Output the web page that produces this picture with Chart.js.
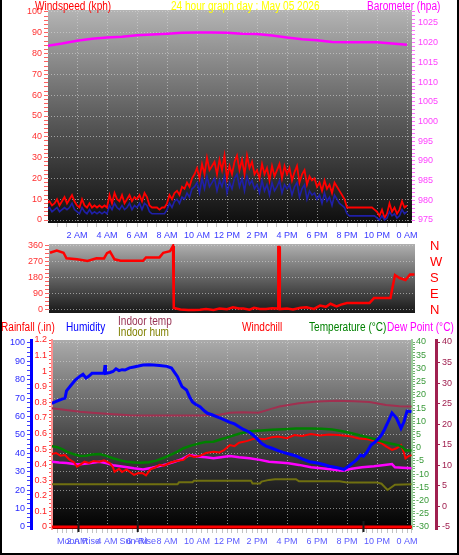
<!DOCTYPE html>
<html>
<head>
<meta charset="utf-8">
<script src="https://cdn.jsdelivr.net/npm/chart.js@4.4.1/dist/chart.umd.min.js"></script>
<style>
  html, body { margin: 0; padding: 0; background: #ffffff; }
  #page { position: relative; width: 459px; height: 555px; overflow: hidden; background: #ffffff;
          font-family: "Liberation Sans", Arial, sans-serif; }
  #page canvas { position: absolute; left: 0; top: 0; }
  .lbl { position: absolute; font-size: 12px; line-height: 12px; white-space: nowrap;
         transform: scaleX(0.84); transform-origin: 0 0; }
  #frame { position: absolute; left: 0; top: 0; width: 459px; height: 555px; box-sizing: border-box;
           border: 2px solid #000; border-top: none; pointer-events: none; }
</style>
</head>
<body>
<div id="page">
  <canvas id="wind-chart" width="459" height="555"></canvas>
  <canvas id="dir-chart" width="459" height="555"></canvas>
  <canvas id="temp-chart" width="459" height="555"></canvas>

  <div class="lbl" style="left:35px; top:0px; color:#ff0000">Windspeed (kph)</div>
  <div class="lbl" style="left:171px; top:0px; color:#ffff00">24 hour graph day : May 05 2026</div>
  <div class="lbl" style="left:367px; top:0px; color:#ff00ff">Barometer (hpa)</div>

  <div class="lbl" style="left:1px; top:321px; color:#ff0000">Rainfall (.in)</div>
  <div class="lbl" style="left:66px; top:321px; color:#0000ff">Humidity</div>
  <div class="lbl" style="left:118px; top:315px; color:#993355">Indoor temp</div>
  <div class="lbl" style="left:118px; top:326px; color:#808000">Indoor hum</div>
  <div class="lbl" style="left:242px; top:321px; color:#ff0000">Windchill</div>
  <div class="lbl" style="left:309px; top:321px; color:#008000">Temperature (°C)</div>
  <div class="lbl" style="left:387px; top:321px; color:#ff00ff">Dew Point (°C)</div>
  <div id="frame"></div>
</div>

<script>
// eje de tiempo: horas 0..24
const HOUR_LABELS = ["2 AM", "4 AM", "6 AM", "8 AM", "10 AM", "12 PM", "2 PM", "4 PM", "6 PM", "8 PM", "10 PM", "0 AM"];
const LABEL_HOURS = [2, 4, 6, 8, 10, 12, 14, 16, 18, 20, 22, 24];

// viento cada 10 minutos (kph)
const WIND_STEP_H = 1 / 6;
const WIND_GUST = [
  8, 9, 7, 8, 10, 7, 9, 11, 8, 10, 12, 9,
  7, 6, 10, 7, 6, 8, 6, 7, 6, 7, 6, 7,
  6, 12, 8, 13, 10, 9, 12, 8, 10, 12, 9, 11,
  10, 12, 9, 13, 11, 7, 6, 6, 6, 5, 6, 6,
  8, 12, 10, 13, 14, 12, 16, 15, 18, 16, 20, 22,
  25, 20, 27, 22, 30, 24, 26, 28, 22, 29, 24, 31,
  20, 26, 22, 28, 31, 24, 29, 22, 31, 25, 28, 22,
  24, 20, 27, 22, 25, 19, 26, 21, 24, 27, 20, 26,
  22, 25, 19, 23, 26, 18, 22, 24, 17, 21, 19, 20,
  16, 18, 14, 19, 15, 17, 13, 18, 16, 14, 12, 10,
  6, 6, 6, 6, 6, 6, 6, 6, 6, 6, 6, 5,
  4, 2, 5, 1, 3, 8, 4, 6, 3, 5, 9, 6, 7
];
const WIND_AVG = [
  5, 6, 4, 5, 6, 4, 5, 6, 5, 6, 8, 5,
  4, 3, 6, 4, 3, 5, 3, 4, 3, 4, 3, 4,
  3, 7, 5, 8, 6, 5, 7, 5, 6, 8, 5, 7,
  6, 8, 5, 8, 7, 4, 3, 3, 3, 3, 3, 3,
  5, 8, 6, 9, 10, 8, 11, 10, 13, 11, 15, 16,
  18, 13, 20, 15, 21, 16, 18, 20, 14, 19, 16, 21,
  13, 18, 15, 20, 22, 16, 20, 14, 21, 17, 19, 15,
  17, 13, 19, 14, 17, 12, 18, 14, 16, 19, 13, 17,
  15, 17, 12, 16, 18, 11, 15, 17, 10, 14, 12, 13,
  10, 12, 8, 13, 9, 11, 7, 12, 10, 8, 7, 6,
  3, 2, 2, 2, 2, 2, 2, 2, 2, 2, 2, 2,
  1, 0, 2, 0, 1, 4, 2, 3, 1, 2, 5, 3, 4
];

// barómetro cada hora (hPa)
const BARO_STEP_H = 1;
const BARO = [
  1019.2, 1019.8, 1020.5, 1021.0, 1021.3, 1021.5, 1021.9, 1022.1, 1022.3, 1022.5,
  1022.6, 1022.6, 1022.5, 1022.3, 1022.2, 1021.8, 1021.3, 1020.9, 1020.6, 1020.2,
  1020.1, 1020.1, 1020.1, 1019.8, 1019.5
];

// dirección del viento (grados)
const DIR_HOURS = [0.2, 0.65, 1.1, 1.3, 2.0, 2.7, 3.3, 3.8, 4.0, 4.2, 4.5, 4.9, 6.4, 6.6, 7.5, 7.75, 8.2, 8.4, 8.45,
  8.9, 9.4, 9.8, 10.2, 10.6, 11.1, 11.5, 12.0, 12.4, 12.8, 13.1, 13.5, 13.8, 14.2, 14.6, 15.0, 15.4, 15.42, 15.5, 15.52,
  16.0, 16.4, 16.9, 17.3, 17.8, 18.2, 18.6, 18.9, 19.3, 19.6, 20.0, 21.5, 21.8, 22.9, 23.0, 23.2, 23.5, 23.9, 24.2, 24.5];
const DIR_DEG = [322, 334, 322, 291, 285, 276, 291, 290, 320, 328, 285, 277, 277, 296, 296, 322, 331, 360, 11,
  3, 0, 0, 2, 5, 0, 8, 4, 15, 8, 8, 2, 12, 6, 5, 10, 8, 354, 354, 5,
  8, 3, 12, 15, 6, 25, 18, 35, 20, 30, 39, 39, 67, 67, 112, 197, 180, 169, 200, 200];
const DIR_TICK_LABELS = ["N", "E", "S", "W", "N"];
const DIR_TICK_VALUES = [0, 90, 180, 270, 360];

// panel inferior
const HUM_HOURS = [0.2, 0.4, 0.7, 1.0, 1.2, 1.3, 1.6, 1.9, 2.2, 2.4, 2.6, 2.8, 3.0, 3.3, 3.6, 3.8, 3.87, 3.9, 4.2, 4.4,
  4.6, 4.8, 5.0, 5.2, 5.5, 5.8, 6.1, 6.4, 6.8, 7.1, 7.5, 8.0, 8.3, 8.5, 8.7, 8.9, 9.0, 9.3, 9.5, 9.7,
  9.9, 10.2, 10.5, 10.7, 11.0, 11.3, 11.6, 11.9, 12.2, 12.5, 12.8, 13.1, 13.5, 13.8, 14.0, 14.3, 14.6, 15.0, 15.4, 15.8,
  16.2, 16.6, 17.0, 17.5, 18.1, 18.5, 18.8, 19.2, 19.5, 19.8, 20.1, 20.5, 20.7, 20.9, 21.1, 21.3, 21.6, 21.9, 22.1, 22.3,
  22.5, 22.8, 23.0, 23.3, 23.6, 23.8, 24.0, 24.3];
const HUMIDITY = [67, 67.5, 68.5, 69.5, 70, 74, 77, 80, 82, 83, 81, 82, 83.5, 83.5, 83.5, 83.5, 88, 83.5, 84, 84.5,
  86, 85, 85.5, 85.3, 86.5, 87, 87.5, 88, 88.2, 88, 87.8, 87.3, 86.4, 84, 81.7, 78, 76.3, 74.5, 70.8, 68,
  66.7, 65.4, 63, 61.8, 61, 60, 59, 58, 56.9, 56, 54.5, 53, 51.5, 49.5, 48, 45.5, 44, 42.8, 41.5, 40.4,
  39.5, 38.6, 37, 35.5, 34.6, 33.8, 33, 32.5, 31.9, 31.3, 33, 35.5, 37, 39.1, 38.5, 40.4, 44.6, 46.4, 48, 50,
  53, 58.2, 62, 59.2, 53.6, 57.2, 63, 62.6];

const IN_TEMP_HOURS = [0.3, 1, 2.2, 3, 4.2, 5.5, 6.4, 8, 10.2, 11.5, 12.2, 13, 14.1, 15, 15.5, 16.8, 18, 19.3, 20.5, 21.5, 22.6, 23.5, 24.3];
const IN_TEMP = [23.9, 23.6, 23.05, 22.8, 22.5, 22.2, 22.1, 22.1, 22.1, 22.3, 22.8, 22.9, 22.8, 23.8, 24.3, 25.1, 25.5, 25.7, 25.6, 25.4, 24.7, 24.4, 24.3];

const TEMP_HOURS = [0.3, 0.7, 1.0, 1.3, 1.8, 2.2, 2.6, 3.0, 3.5, 4.0, 4.4, 4.9, 5.3, 5.8, 6.2, 6.8, 7.3, 7.8, 8.2, 8.7,
  9.1, 9.6, 10.2, 10.6, 11.1, 11.6, 12.2, 12.8, 13.5, 14.3, 15.0, 15.8, 16.6, 17.5, 18.3, 19.0, 19.6, 20.3, 20.9, 21.4,
  22.0, 22.4, 22.8, 23.2, 23.5, 23.7, 23.9, 24.3];
const TEMPERATURE = [0.6, 0.2, -0.5, -1.5, -2.5, -3.1, -3.0, -2.6, -2.4, -3.2, -4, -4.8, -5.3, -5.6, -5.7, -5.5, -4.9, -3.8, -2.8, -1.5,
  -0.2, 0.8, 1.7, 2.2, 2.3, 3.2, 4.2, 5.3, 6.2, 6.5, 6.8, 7.0, 7.3, 7.3, 7.2, 6.9, 6.3, 5.5, 4.6, 3.9,
  3.0, 2.2, 1.7, 1.2, 0.8, 0.2, -1.1, -1.1];

const CHILL_HOURS = [0.3, 0.6, 0.9, 1.2, 1.5, 1.8, 2.0, 2.2, 2.5, 2.8, 3.1, 3.5, 3.8, 4.2, 4.4, 4.5, 4.8, 5.0, 5.3, 5.6,
  5.8, 6.1, 6.4, 6.6, 6.9, 7.2, 7.5, 7.8, 8.2, 8.6, 9.1, 9.3, 9.5, 9.8, 10.2, 10.6, 11.1, 11.5, 11.8, 12.2,
  12.5, 12.8, 13.3, 13.9, 14.5, 15.0, 15.4, 16.0, 16.5, 17.0, 17.6, 18.2, 18.8, 19.4, 19.9, 20.3, 20.8, 21.4, 21.9, 22.3,
  22.6, 23.0, 23.3, 23.6, 23.8, 23.9, 24.1, 24.3];
const WINDCHILL = [-2.4, -2.0, -3.0, -2.8, -4.5, -5.5, -7.2, -6.5, -5.3, -5.8, -5.0, -5.3, -4.8, -5.9, -7.5, -9.1, -8.0, -9.2, -8.2, -9.5,
  -10.3, -9.6, -9.7, -10.5, -8.2, -7.5, -6.5, -6.8, -5.7, -5.0, -4.6, -3.5, -2.8, -3.5, -3.1, -2.0, -1.5, -1.8, -0.9, 1.0,
  0.6, 1.9, 2.5, 3.6, 3.2, 4.0, 4.2, 3.6, 4.8, 4.4, 5.2, 4.6, 5.0, 4.8, 4.5, 4.2, 3.5, 3.2, 2.4, 1.7,
  0.5, -0.8, -0.2, 1.0, -2.0, -4.0, -3.2, -2.8];

const DEW_HOURS = [0.3, 0.8, 1.3, 1.8, 2.2, 2.8, 3.5, 4.0, 4.4, 5.0, 5.8, 6.4, 7.0, 7.3, 8.0, 8.5, 9.0, 9.5, 10.2, 10.6,
  11.1, 11.6, 12.2, 12.8, 13.5, 14.2, 14.8, 15.5, 16.1, 16.8, 17.6, 18.6, 19.7, 20.3, 21.0, 21.8, 22.5, 23.0, 23.2, 23.7, 24.3];
const DEW_POINT = [-5.3, -5.6, -5.8, -6.2, -6.3, -5.9, -5.3, -5.9, -6.6, -7.1, -7.8, -8.2, -7.6, -7.2, -6.2, -5.3, -4.3, -2.8, -3.4, -3.6,
  -4.0, -3.6, -3.1, -3.6, -4.0, -4.6, -5.3, -5.6, -5.9, -6.5, -7.4, -8.0, -8.7, -8.0, -7.4, -7.0, -6.5, -6.2, -7.4, -7.6, -7.8];

const IN_HUM_HOURS = [0.3, 8.7, 8.8, 9.7, 9.8, 13.6, 13.7, 14.2, 14.3, 14.8, 15.2, 16.6, 16.8, 19.5, 20.0, 22.0, 22.3, 22.7, 23.2, 24.3];
const IN_HUM = [23.2, 23.2, 24.3, 24.3, 25.2, 25.2, 23.7, 23.7, 24.7, 25.6, 26, 26, 24.8, 24.8, 24.2, 24.2, 23.5, 20.1, 23, 23.2];

const RAIN_HOURS = [0, 24.5];
const RAINFALL = [0, 0];

const EVENT_HOURS = [2.1, 6.05, 21.1];
const EVENT_LABELS = ["Moon Rise", "Sun Rise", ""];

const FUENTE = '"Liberation Sans", Arial, sans-serif';
const REJILLA = "rgba(215,215,215,0.6)";
const SIN_COLOR = "rgba(0,0,0,0)";

Chart.defaults.font.family = FUENTE;

function rango(desde, hasta, paso) {
  const valores = [];
  const n = Math.round((hasta - desde) / paso);
  for (let i = 0; i <= n; i += 1) {
    valores.push(Math.round((desde + i * paso) * 10000) / 10000);
  }
  return valores;
}

function esMultiplo(v, paso) {
  const q = v / paso;
  return Math.abs(q - Math.round(q)) < 1e-6;
}

function serie(horas, valores) {
  return valores.map((v, i) => ({ x: horas[i], y: v }));
}

function serieRegular(paso, valores) {
  return valores.map((v, i) => ({ x: i * paso, y: v }));
}

function linea(datos, color, ancho, eje) {
  return {
    data: datos,
    borderColor: color,
    borderWidth: ancho,
    pointRadius: 0,
    tension: 0,
    fill: false,
    yAxisID: eje
  };
}

// eje vertical con marcas menores y etiquetas solo en las mayores
function ejeY(o) {
  return {
    type: "linear",
    position: o.pos,
    weight: o.peso || 0,
    min: o.min,
    max: o.max,
    afterBuildTicks(s) {
      s.ticks = o.marcas
        .filter((v) => v >= s.min - 1e-6 && v <= s.max + 1e-6)
        .map((v) => ({ value: v }));
    },
    afterFit(s) {
      s.width = o.ancho;
    },
    ticks: {
      autoSkip: false,
      color: o.color,
      padding: o.relleno === undefined ? 2 : o.relleno,
      font: { size: o.tam || 9 },
      callback(v, i) {
        if (o.textos) return o.textos[i];
        return esMultiplo(v, o.paso) ? String(Math.round(v * 10) / 10) : "";
      }
    },
    grid: {
      drawOnChartArea: !!o.rejilla,
      drawTicks: o.largo !== 0,
      tickLength: o.largo === undefined ? 4 : o.largo,
      tickColor: o.colorMarca || o.color,
      color: (c) => (o.rejilla && c.tick && esMultiplo(c.tick.value, o.paso) ? REJILLA : SIN_COLOR)
    },
    border: {
      display: !!o.borde,
      color: o.borde || SIN_COLOR,
      width: o.anchoBorde || 1,
      dash: [1, 2]
    }
  };
}

function ejeX(min, max, pasoMenor, alto, color, visible) {
  const marcas = rango(0, 25, pasoMenor);
  return {
    type: "linear",
    display: visible,
    min: min,
    max: max,
    afterBuildTicks(s) {
      s.ticks = marcas.filter((v) => v >= s.min && v <= s.max).map((v) => ({ value: v }));
    },
    afterFit(s) {
      s.height = alto;
    },
    ticks: {
      autoSkip: false,
      maxRotation: 0,
      minRotation: 0,
      color: color,
      padding: 3,
      font: { size: 9 },
      callback(v) {
        const k = LABEL_HOURS.findIndex((h) => Math.abs(h - v) < 1e-6);
        return k >= 0 ? HOUR_LABELS[k] : "";
      }
    },
    grid: {
      tickLength: 4,
      tickColor: "#c4c4c4",
      color: (c) => (c.tick && LABEL_HOURS.some((h) => Math.abs(h - c.tick.value) < 1e-6) ? REJILLA : SIN_COLOR)
    },
    border: { display: false, dash: [1, 2] }
  };
}

const pluginFondo = {
  id: "fondoDegradado",
  beforeDraw(chart, args, opts) {
    const { ctx, chartArea: a } = chart;
    const g = ctx.createLinearGradient(0, a.top, 0, a.bottom);
    g.addColorStop(0, opts.arriba);
    g.addColorStop(0.5, opts.medio);
    g.addColorStop(1, opts.abajo);
    ctx.save();
    ctx.fillStyle = g;
    ctx.fillRect(a.left, a.top, a.right - a.left, a.bottom - a.top);
    ctx.restore();
  }
};

const pluginEventos = {
  id: "eventosAstro",
  afterDraw(chart) {
    const { ctx, chartArea: a } = chart;
    const x = chart.scales.x;
    ctx.save();
    EVENT_HOURS.forEach((h, i) => {
      const px = x.getPixelForValue(h);
      ctx.strokeStyle = "#1a1a1a";
      ctx.lineWidth = 2;
      ctx.beginPath();
      ctx.moveTo(px, a.bottom - 8);
      ctx.lineTo(px, a.bottom + 3);
      ctx.stroke();
      if (EVENT_LABELS[i]) {
        ctx.fillStyle = "#5a5aff";
        ctx.font = "9px " + FUENTE;
        ctx.textAlign = "center";
        ctx.textBaseline = "top";
        ctx.fillText(EVENT_LABELS[i], px, a.bottom + 8);
      }
    });
    ctx.restore();
  }
};

function opcionesBase(padding, fondo) {
  return {
    responsive: false,
    animation: false,
    devicePixelRatio: 1,
    layout: { padding: padding },
    plugins: {
      legend: { display: false },
      tooltip: { enabled: false },
      fondoDegradado: fondo
    }
  };
}

// mapeo hora -> pixel: x = 47 + 15 * h
function horaEnPixel(px) {
  return (px - 47) / 15;
}

function graficoViento() {
  const opciones = opcionesBase({ top: 10, bottom: 315, left: 0, right: 0 },
    { arriba: "#b4b4b4", medio: "#5c5c5c", abajo: "#0e0e0e" });
  opciones.scales = {
    x: ejeX(horaEnPixel(48), horaEnPixel(412), 2 / 3, 17, "#3a3aff", true),
    y: ejeY({ pos: "left", min: -1.44, max: 100.96, marcas: rango(0, 100, 2), paso: 10, ancho: 48,
      color: "#ff3030", colorMarca: "#ff6060", rejilla: true }),
    yB: ejeY({ pos: "right", min: 974.24, max: 1028.3, marcas: rango(975, 1028, 1), paso: 5, ancho: 47,
      color: "#ff40ff", colorMarca: "#ff70ff", largo: 3, relleno: 3 })
  };
  new Chart(document.getElementById("wind-chart"), {
    type: "line",
    data: {
      datasets: [
        linea(serieRegular(BARO_STEP_H, BARO), "#ff00ff", 2.5, "yB"),
        linea(serieRegular(WIND_STEP_H, WIND_AVG), "#1f1fa8", 1.6, "y"),
        linea(serieRegular(WIND_STEP_H, WIND_GUST), "#ff0000", 1.8, "y")
      ]
    },
    options: opciones,
    plugins: [pluginFondo]
  });
}

function graficoDireccion() {
  const opciones = opcionesBase({ top: 244, bottom: 242, left: 0, right: 0 },
    { arriba: "#b0b0b0", medio: "#626262", abajo: "#181818" });
  opciones.scales = {
    x: ejeX(horaEnPixel(49), horaEnPixel(415), 1, 0, "#3a3aff", false),
    y: ejeY({ pos: "left", min: -16.9, max: 371.25, marcas: rango(0, 360, 22.5), paso: 90, ancho: 49,
      color: "#ff3030", colorMarca: "#ff6060", rejilla: true }),
    yD: ejeY({ pos: "right", min: -16.9, max: 371.25, marcas: DIR_TICK_VALUES, paso: 90, ancho: 44,
      color: "#ff0000", largo: 0, relleno: 15, tam: 13, textos: DIR_TICK_LABELS })
  };
  new Chart(document.getElementById("dir-chart"), {
    type: "line",
    data: {
      datasets: [linea(serie(DIR_HOURS, DIR_DEG), "#ff0000", 2.5, "y")]
    },
    options: opciones,
    plugins: [pluginFondo]
  });
}

function graficoTemperatura() {
  const opciones = opcionesBase({ top: 340, bottom: 0, left: 0, right: 0 },
    { arriba: "#ababab", medio: "#4a4a4a", abajo: "#000000" });
  opciones.scales = {
    x: ejeX(horaEnPixel(52), horaEnPixel(412), 1 / 3, 26, "#5a5aff", true),
    yH: ejeY({ pos: "left", peso: 2, min: -1.09, max: 101.63, marcas: rango(0, 100, 2.5), paso: 10, ancho: 31,
      color: "#2a2aff", colorMarca: "#4040ff", rejilla: true, borde: "#0000ff", anchoBorde: 3 }),
    yR: ejeY({ pos: "left", peso: 1, min: -0.0128, max: 1.2, marcas: rango(0, 1.2, 0.025), paso: 0.1, ancho: 21,
      color: "#ff2020", colorMarca: "#ff5050", largo: 3, borde: "#ff9090", anchoBorde: 2 }),
    yT: ejeY({ pos: "right", peso: 1, min: -30.76, max: 40.76, marcas: rango(-30, 40, 1), paso: 5, ancho: 24,
      color: "#3a9a3a", colorMarca: "#70b070", largo: 3, relleno: 1, borde: "#9ccc9c", anchoBorde: 2 }),
    yM: ejeY({ pos: "right", peso: 2, min: -5.49, max: 40.49, marcas: rango(-5, 40, 5), paso: 5, ancho: 23,
      color: "#a02050", colorMarca: "#a02050", largo: 4, relleno: 2, borde: "#a02050", anchoBorde: 3 })
  };
  new Chart(document.getElementById("temp-chart"), {
    type: "line",
    data: {
      datasets: [
        linea(serie(HUM_HOURS, HUMIDITY), "#0000ff", 3, "yH"),
        linea(serie(TEMP_HOURS, TEMPERATURE), "#008000", 2.5, "yT"),
        linea(serie(CHILL_HOURS, WINDCHILL), "#ff0000", 2, "yT"),
        linea(serie(DEW_HOURS, DEW_POINT), "#ff00ff", 2.5, "yT"),
        linea(serie(IN_TEMP_HOURS, IN_TEMP), "#a03050", 2, "yM"),
        linea(serie(IN_HUM_HOURS, IN_HUM), "#707010", 2, "yH"),
        linea(serie(RAIN_HOURS, RAINFALL), "#ff0000", 3, "yR")
      ]
    },
    options: opciones,
    plugins: [pluginFondo, pluginEventos]
  });
}

graficoViento();
graficoDireccion();
graficoTemperatura();
</script>
</body>
</html>
